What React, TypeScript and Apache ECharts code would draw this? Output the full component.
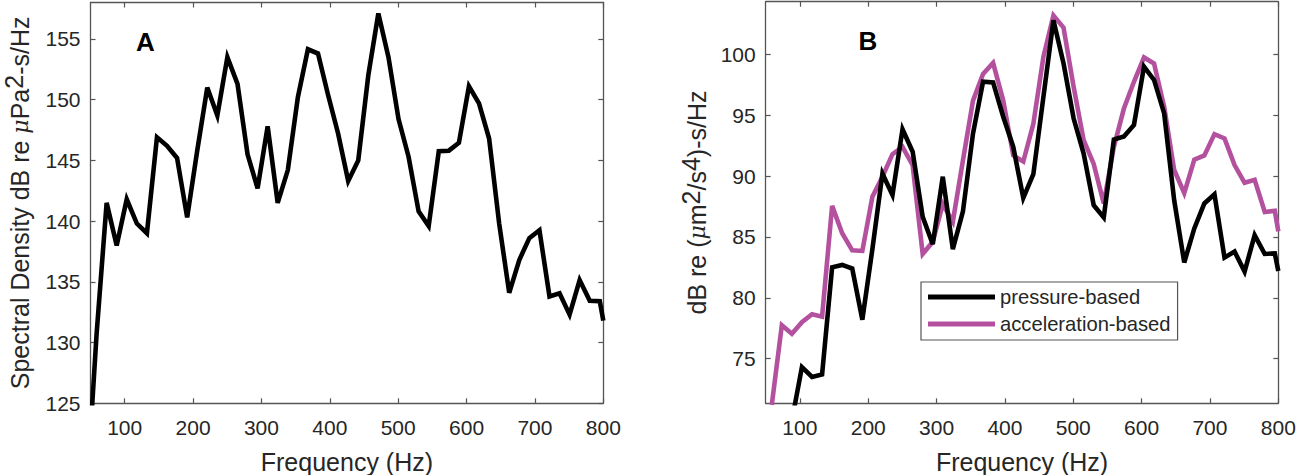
import React, { useEffect, useRef } from "react";
import * as echarts from "echarts";

const frequencies = [
  44.2, 58.9, 73.6, 88.3, 103, 117.8, 132.5, 147.2, 161.9, 176.6, 191.4, 206.1, 220.8, 235.5, 250.2, 265, 279.7, 294.4,
  309.1, 323.8, 338.6, 353.3, 368, 382.7, 397.4, 412.2, 426.9, 441.6, 456.3, 471, 485.8, 500.5, 515.2, 529.9, 544.6,
  559.4, 574.1, 588.8, 603.5, 618.2, 633, 647.7, 662.4, 677.1, 691.8, 706.6, 721.3, 736, 750.7, 765.4, 780.2, 794.9,
  800,
];
const spectralDensity = [
  117.4, 130.7, 141.5, 138, 141.8, 139.8, 139, 146.9, 146.2, 145.2, 140.3, 145.8, 151, 148.7, 153.5, 151.3, 145.5, 142.7,
  147.8, 141.5, 144.2, 150.2, 154.15, 153.8, 150.4, 147.2, 143.3, 145, 152, 157.1, 153.5, 148.4, 145.3, 140.8, 139.6,
  145.75, 145.8, 146.45, 151.1, 149.7, 146.8, 139.8, 134.1, 136.8, 138.6, 139.25, 133.8, 134.05, 132.3, 135.15, 133.45,
  133.4, 131.8,
];
const pressureBased = [
  null, null, null, 69.9, 74.3, 73.5, 73.7, 82.5, 82.7, 82.4, 78.2, 84, 90.2, 88.45, 93.85, 92, 86.65, 84.4, 89.95, 84,
  87.1, 93.5, 97.75, 97.7, 94.9, 92.4, 88.2, 90.15, 96.5, 102.8, 99.25, 94.75, 91.85, 87.6, 86.6, 93, 93.25, 94.2, 99,
  97.9, 95.15, 88, 82.9, 85.7, 87.75, 88.5, 83.3, 83.8, 82.15, 85.15, 83.6, 83.65, 82.2,
];
const accelerationBased = [
  null, 71.2, 77.75, 77.05, 78, 78.65, 78.45, 87.55, 85.3, 83.9, 83.85, 88.3, 89.95, 91.8, 92.4, 90.9, 83.6, 84.6, 87.7,
  86.25, 91.3, 96.2, 98.4, 99.3, 96.25, 91.7, 91.2, 94.3, 99.8, 103.2, 102.2, 97.35, 92.95, 91, 87.75, 92.4, 95.55,
  97.75, 99.75, 99.25, 95.7, 90.5, 88.6, 91.35, 91.7, 93.45, 93.1, 90.9, 89.45, 89.7, 87.05, 87.15, 85.45,
];
const xTicks = [100, 200, 300, 400, 500, 600, 700, 800];
const yTicksA = [125, 130, 135, 140, 145, 150, 155];
const yTicksB = [75, 80, 85, 90, 95, 100];

const FONT = "'Liberation Sans', Arial, sans-serif";
const TEXT = "#262626";
const AXIS = "#555555";
const PURPLE = "#B4519F";

const pairs = (vals: (number | null)[]) => vals.map((v, i) => [frequencies[i], v]);

const supRich = {
  base: { fontSize: 25, fontFamily: FONT, color: TEXT },
  mu: { fontSize: 22, fontFamily: "'DejaVu Serif', serif", fontStyle: "italic", color: TEXT },
  sup: { fontSize: 25, fontFamily: FONT, color: TEXT, padding: [0, 0, 12, 0], verticalAlign: "bottom" },
};

const xAxis = (gridIndex: number, top: boolean, name?: string) => ({
  type: "value",
  gridIndex,
  min: 50,
  max: 800,
  position: top ? "top" : "bottom",
  name,
  nameLocation: "middle",
  nameGap: 46,
  nameTextStyle: { fontSize: 25, fontFamily: FONT, color: TEXT },
  splitLine: { show: false },
  axisLine: { onZero: false, lineStyle: { color: AXIS, width: 1.3 } },
  axisTick: { show: true, inside: true, length: 5, customValues: xTicks, lineStyle: { color: AXIS, width: 1.2 } },
  axisLabel: top
    ? { show: false }
    : { show: true, customValues: xTicks, margin: 14, fontSize: 21, fontFamily: FONT, color: TEXT },
});

const yAxis = (gridIndex: number, right: boolean, min: number, max: number, ticks: number[], name?: string, gap = 0) => ({
  type: "value",
  gridIndex,
  min,
  max,
  position: right ? "right" : "left",
  name,
  nameLocation: "middle",
  nameGap: gap,
  nameTextStyle: { fontSize: 25, fontFamily: FONT, color: TEXT, rich: supRich },
  splitLine: { show: false },
  axisLine: { onZero: false, lineStyle: { color: AXIS, width: 1.3 } },
  axisTick: { show: true, inside: true, length: 5, customValues: ticks, lineStyle: { color: AXIS, width: 1.2 } },
  axisLabel: right
    ? { show: false }
    : { show: true, customValues: ticks, margin: 10, fontSize: 21, fontFamily: FONT, color: TEXT },
});

const line = (name: string, vals: (number | null)[], color: string, idx: number, z: number) => ({
  type: "line",
  name,
  data: pairs(vals),
  xAxisIndex: idx,
  yAxisIndex: idx,
  showSymbol: false,
  symbol: "none",
  clip: true,
  z,
  lineStyle: { color, width: 4.6, join: "miter", miterLimit: 10, cap: "butt" },
  itemStyle: { color },
});

export default function App() {
  const ref = useRef<HTMLDivElement>(null);
  useEffect(() => {
    const chart = echarts.init(ref.current!, undefined, { renderer: "svg" });
    chart.setOption({
      animation: false,
      backgroundColor: "#ffffff",
      grid: [
        { left: 90.5, top: 2.5, width: 512.8, height: 400.8, outerBoundsMode: "none" },
        { left: 765.7, top: 1.7, width: 512.6, height: 401.6, outerBoundsMode: "none" },
      ],
      xAxis: [
        xAxis(0, false, "Frequency (Hz)"),
        xAxis(0, true),
        xAxis(1, false, "Frequency (Hz)"),
        xAxis(1, true),
      ],
      yAxis: [
        yAxis(0, false, 125, 158, yTicksA, "{base|Spectral Density dB re }{mu|μ}{base|Pa}{sup|2}{base|-s/Hz}", 52),
        yAxis(0, true, 125, 158, yTicksA),
        yAxis(1, false, 71.33, 104.33, yTicksB, "{base|dB re (}{mu|μ}{base|m}{sup|2}{base|/s}{sup|4}{base|)-s/Hz}", 50),
        yAxis(1, true, 71.33, 104.33, yTicksB),
      ],
      legend: {
        show: true,
        orient: "vertical",
        left: 921,
        top: 282,
        padding: [5, 7, 6, 7],
        itemGap: 7,
        itemWidth: 67,
        itemHeight: 5,
        icon: "rect",
        borderColor: AXIS,
        borderWidth: 1.2,
        backgroundColor: "#ffffff",
        data: ["pressure-based", "acceleration-based"],
        lineStyle: { width: 5 },
        textStyle: { fontSize: 20.2, fontFamily: FONT, color: TEXT },
      },
      series: [
        line("Spectral Density", spectralDensity, "#000000", 0, 3),
        line("acceleration-based", accelerationBased, PURPLE, 2, 2),
        line("pressure-based", pressureBased, "#000000", 2, 3),
      ],
      graphic: [
        { type: "text", left: 136, top: 29, style: { text: "A", fontSize: 26, fontWeight: "bold", fontFamily: FONT, fill: "#000" } },
        { type: "text", left: 858.5, top: 28, style: { text: "B", fontSize: 26, fontWeight: "bold", fontFamily: FONT, fill: "#000" } },
      ],
    });
    return () => chart.dispose();
  }, []);
  return <div ref={ref} style={{ position: "absolute", left: 0, top: 0, width: 1299, height: 475 }} />;
}
